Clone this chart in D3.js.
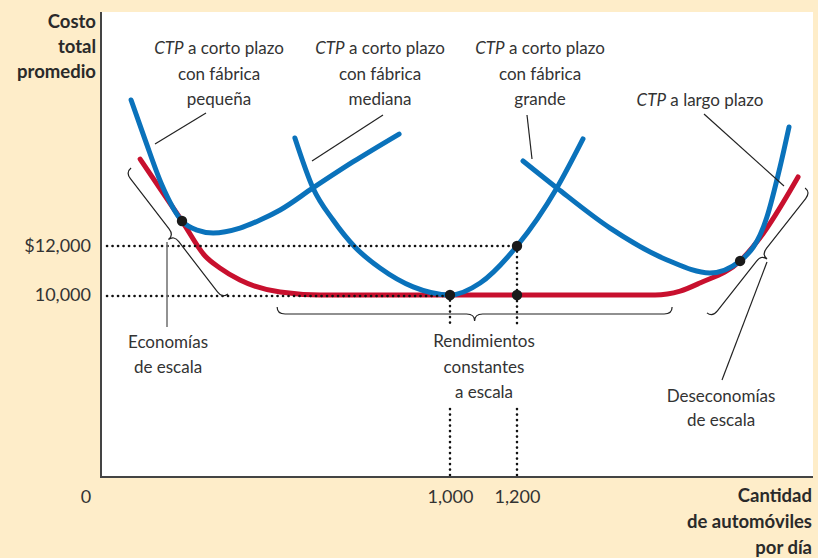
<!DOCTYPE html>
<html>
<head>
<meta charset="utf-8">
<script src="https://cdn.jsdelivr.net/npm/d3@7"></script>
<style>
    html, body { margin: 0; padding: 0; background: #feedc9; }
    svg { display: block; font-family: Lato, "Open Sans", sans-serif; }
</style>
</head>
<body>
<svg id="chart" width="818" height="558"></svg>
<script>
// cantidad (automóviles por día) y costo total promedio ($)
const smallQ  = [48, 90, 140, 200, 245, 293, 373, 433, 493, 591, 710, 848];
const smallC  = [17960, 16330, 14490, 13020, 12650, 12530, 12730, 13060, 13470, 14370, 15430, 16570];

const mediumQ = [537, 591, 651, 716, 791, 890, 1000, 1090, 1200, 1319, 1397];
const mediumC = [16410, 14370, 13060, 11960, 11100, 10330, 10000, 10490, 12000, 14370, 16370];

const largeQ  = [1218, 1319, 1478, 1648, 1776, 1866, 1946, 1985, 2012];
const largeC  = [15470, 14370, 12730, 11430, 10900, 11390, 13180, 15220, 16860];

const longQ   = [75, 200, 269, 313, 373, 493, 612, 1612, 1687, 1746, 1866, 1925, 2039];
const longC   = [15550, 13020, 11590, 11100, 10610, 10120, 10000, 10000, 10160, 10490, 11390, 12330, 14820];

// puntos de tangencia
const dotQ = [200, 1000, 1200, 1200, 1866];
const dotC = [13020, 10000, 12000, 10000, 11390];

const xTicks = [1000, 1200];
const xTickLabels = ["1,000", "1,200"];
const yTicks = [10000, 12000];
const yTickLabels = ["10,000", "$12,000"];

// llaves: [q1, c1, q2, c2]
const braces = [
    [48, 15180, 337, 10040],    // economías de escala
    [484, 9510, 1663, 9510],    // rendimientos constantes
    [1767, 9270, 2060, 14370]   // deseconomías
];

const frame = { left: 101, top: 12, right: 813, bottom: 477 };
const BLUE = "#0a72bb", RED = "#c8102e", INK = "#333333";

const svg = d3.select("#chart");

const x = d3.scaleLinear().domain([1000, 1200]).range([450, 517]);
const y = d3.scaleLinear().domain([10000, 12000]).range([295, 246]);

/* **************************************************************** *
 * fondo y ejes
 * **************************************************************** */
svg.append("rect")
    .attr("x", frame.left).attr("y", frame.top)
    .attr("width", frame.right - frame.left)
    .attr("height", frame.bottom - frame.top)
    .attr("fill", "#ffffff");

const gx = svg.append("g")
    .attr("transform", "translate(0," + frame.bottom + ")")
    .call(d3.axisBottom(x).tickValues(xTicks).tickSize(0).tickPadding(13)
        .tickFormat((d, i) => xTickLabels[i]));
const gy = svg.append("g")
    .attr("transform", "translate(" + frame.left + ",0)")
    .call(d3.axisLeft(y).tickValues(yTicks).tickSize(0).tickPadding(10)
        .tickFormat((d, i) => yTickLabels[i]));
[gx, gy].forEach((g) => {
    g.select(".domain").remove();
    g.selectAll("text")
        .attr("font-family", "Lato, 'Open Sans', sans-serif")
        .attr("font-size", 18)
        .attr("fill", INK);
});

svg.append("text")
    .attr("x", 86).attr("y", 503)
    .attr("text-anchor", "middle")
    .attr("font-size", 18).attr("fill", INK)
    .text("0");

/* **************************************************************** *
 * líneas punteadas guía
 * **************************************************************** */
const guides = [
    [[frame.left + 6, y(12000)], [x(1200), y(12000)]],
    [[frame.left + 6, y(10000) + 1], [x(1000), y(10000) + 1]],
    [[x(1000), y(10000)], [x(1000), 328]],
    [[x(1000), 409], [x(1000), frame.bottom]],
    [[x(1200), y(12000)], [x(1200), 328]],
    [[x(1200), 409], [x(1200), frame.bottom]]
];

/* **************************************************************** *
 * curvas
 * **************************************************************** */
const line = d3.line()
    .x((d) => x(d[0]))
    .y((d) => y(d[1]))
    .curve(d3.curveMonotoneX);

const zip = (a, b) => a.map((v, i) => [v, b[i]]);

svg.append("path")
    .datum(zip(longQ, longC))
    .attr("d", line)
    .attr("fill", "none")
    .attr("stroke", RED)
    .attr("stroke-width", 5)
    .attr("stroke-linecap", "round");

svg.selectAll("path.srac")
    .data([zip(smallQ, smallC), zip(mediumQ, mediumC), zip(largeQ, largeC)])
    .enter()
    .append("path")
    .attr("class", "srac")
    .attr("d", line)
    .attr("fill", "none")
    .attr("stroke", BLUE)
    .attr("stroke-width", 5)
    .attr("stroke-linecap", "round");

svg.selectAll("line.guide")
    .data(guides)
    .enter()
    .append("line")
    .attr("class", "guide")
    .attr("x1", (d) => d[0][0]).attr("y1", (d) => d[0][1])
    .attr("x2", (d) => d[1][0]).attr("y2", (d) => d[1][1])
    .attr("stroke", "#111")
    .attr("stroke-width", 2.6)
    .attr("stroke-linecap", "round")
    .attr("stroke-dasharray", "0.1 5.4");

svg.selectAll("circle.dot")
    .data(zip(dotQ, dotC))
    .enter()
    .append("circle")
    .attr("class", "dot")
    .attr("cx", (d) => x(d[0]))
    .attr("cy", (d) => y(d[1]))
    .attr("r", 5.2)
    .attr("fill", "#1a1a1a");

/* **************************************************************** *
 * llaves
 * **************************************************************** */
function bracePath(p1, p2, h, dep, r, t) {
    const dx = p2[0] - p1[0], dy = p2[1] - p1[1];
    const L = Math.hypot(dx, dy);
    const ux = dx / L, uy = dy / L;
    const nx = -uy, ny = ux;
    const P = (u, v) => [p1[0] + u * ux + v * nx, p1[1] + u * uy + v * ny];
    const m = L * t;
    const p = d3.path();
    let a = P(0, 0), c, e;
    p.moveTo(a[0], a[1]);
    c = P(0, h); e = P(r, h);
    p.quadraticCurveTo(c[0], c[1], e[0], e[1]);
    e = P(m - r, h);
    p.lineTo(e[0], e[1]);
    c = P(m, h); e = P(m, h + dep);
    p.quadraticCurveTo(c[0], c[1], e[0], e[1]);
    c = P(m, h); e = P(m + r, h);
    p.quadraticCurveTo(c[0], c[1], e[0], e[1]);
    e = P(L - r, h);
    p.lineTo(e[0], e[1]);
    c = P(L, h); e = P(L, 0);
    p.quadraticCurveTo(c[0], c[1], e[0], e[1]);
    return p.toString();
}

svg.selectAll("path.brace")
    .data(braces)
    .enter()
    .append("path")
    .attr("class", "brace")
    .attr("d", (d) => bracePath([x(d[0]), y(d[1])], [x(d[2]), y(d[3])], 7, 7, 8, 0.5))
    .attr("fill", "none")
    .attr("stroke", "#222")
    .attr("stroke-width", 1.2);

/* **************************************************************** *
 * líneas de llamada y rótulos
 * **************************************************************** */
const leaders = [
    { p: [[155, 144], [206, 113]], c: "#222" },
    { p: [[312, 161], [383, 115]], c: "#222" },
    { p: [[532, 159], [527, 115]], c: "#222" },
    { p: [[784, 186], [704, 114]], c: "#222" },
    { p: [[167, 242], [167, 327]], c: "#777" },
    { p: [[767, 262], [722, 380]], c: "#222" }
];

svg.selectAll("line.leader")
    .data(leaders)
    .enter()
    .append("line")
    .attr("class", "leader")
    .attr("x1", (d) => d.p[0][0]).attr("y1", (d) => d.p[0][1])
    .attr("x2", (d) => d.p[1][0]).attr("y2", (d) => d.p[1][1])
    .attr("stroke", (d) => d.c)
    .attr("stroke-width", (d) => d.c === "#777" ? 1.6 : 1.2);

const labels = [
    { x: 219, y: [54, 80, 105], t: ["*CTP", "con fábrica", "pequeña"] },
    { x: 380, y: [54, 80, 105], t: ["*CTP", "con fábrica", "mediana"] },
    { x: 540, y: [54, 80, 105], t: ["*CTP", "con fábrica", "grande"] },
    { x: 700, y: [106], t: ["*CTPL"] },
    { x: 168, y: [348, 373], t: ["Economías", "de escala"] },
    { x: 484, y: [347, 373, 398], t: ["Rendimientos", "constantes", "a escala"] },
    { x: 721, y: [402, 426], t: ["Deseconomías", "de escala"] }
];

labels.forEach((lb) => {
    lb.t.forEach((s, i) => {
        const t = svg.append("text")
            .attr("x", lb.x).attr("y", lb.y[i])
            .attr("text-anchor", "middle")
            .attr("font-size", 17)
            .attr("fill", INK);
        if (s[0] === "*") {
            t.append("tspan").attr("font-style", "italic").text("CTP");
            t.append("tspan").text(s === "*CTPL" ? " a largo plazo" : " a corto plazo");
        } else {
            t.text(s);
        }
    });
});

// títulos de ejes
const yTitle = ["Costo", "total", "promedio"];
const xTitle = ["Cantidad", "de automóviles", "por día"];

svg.selectAll("text.ytitle")
    .data(yTitle)
    .enter()
    .append("text")
    .attr("class", "ytitle")
    .attr("x", 96)
    .attr("y", (d, i) => 28 + i * 25)
    .attr("text-anchor", "end")
    .attr("font-size", 18.5)
    .attr("font-weight", "bold")
    .attr("fill", "#2a2a2a")
    .text((d) => d);

svg.selectAll("text.xtitle")
    .data(xTitle)
    .enter()
    .append("text")
    .attr("class", "xtitle")
    .attr("x", 812)
    .attr("y", (d, i) => 502 + i * 26)
    .attr("text-anchor", "end")
    .attr("font-size", 18.5)
    .attr("font-weight", "bold")
    .attr("fill", "#2a2a2a")
    .text((d) => d);

// ejes
svg.append("path")
    .attr("d", "M" + frame.left + "," + frame.top + "V" + frame.bottom + "H" + frame.right)
    .attr("fill", "none")
    .attr("stroke", "#444")
    .attr("stroke-width", 2);
</script>
</body>
</html>
